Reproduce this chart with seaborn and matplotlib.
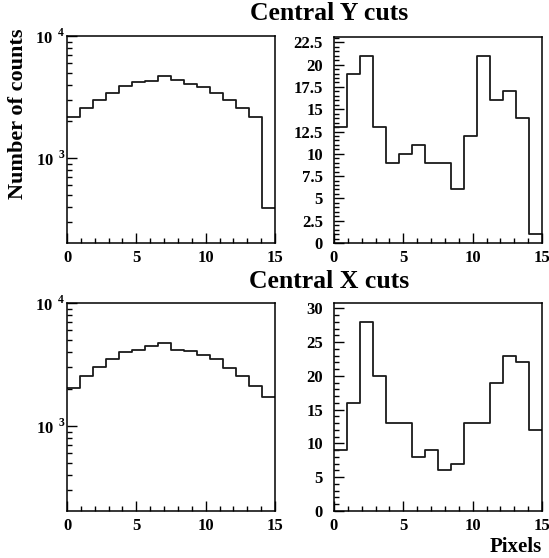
import numpy as np
import pandas as pd
import matplotlib
matplotlib.use("Agg")
import matplotlib.pyplot as plt
import seaborn as sns
from matplotlib.ticker import MultipleLocator, LogLocator, FuncFormatter, NullFormatter

# 16 pixel bins spanning 0..15
n_bins = 16
pixel_range = (0, 15)
pixel_edges = np.linspace(pixel_range[0], pixel_range[1], n_bins + 1)
pixel_centers = 0.5 * (pixel_edges[:-1] + pixel_edges[1:])

# Central Y cuts
y_cut_total = [2190, 2580, 3000, 3420, 3880, 4240, 4320, 4750,
               4380, 4060, 3860, 3400, 3010, 2580, 2190, 393]
y_cut_center = [13, 19, 21, 13, 9, 10, 11, 9, 9, 6, 12, 21, 16, 17, 14, 1]

# Central X cuts
x_cut_total = [2040, 2550, 3010, 3520, 3990, 4170, 4470, 4700,
               4170, 4090, 3770, 3500, 2970, 2550, 2100, 1730]
x_cut_center = [9, 16, 28, 20, 13, 13, 8, 9, 6, 7, 13, 13, 19, 23, 22, 12]

sns.set_style("ticks")
plt.rcParams['font.family'] = ['Liberation Serif', 'DejaVu Serif']
plt.rcParams['font.weight'] = 'bold'
plt.rcParams['text.color'] = 'black'
plt.rcParams['xtick.color'] = 'black'
plt.rcParams['ytick.color'] = 'black'
plt.rcParams['mathtext.fontset'] = 'custom'
plt.rcParams['mathtext.rm'] = 'Liberation Serif:bold'
plt.rcParams['mathtext.bf'] = 'Liberation Serif:bold'


def log_label(v, pos):
    return r'$\mathbf{10}\ ^{\mathbf{%d}}$' % int(round(np.log10(v)))


def draw_hist(ax, counts, log=False):
    df = pd.DataFrame({'pixel': pixel_centers, 'counts': counts})
    sns.histplot(data=df, x='pixel', weights='counts', bins=n_bins, binrange=pixel_range,
                 element='step', fill=False, color='#1a1a1a', linewidth=1.3, ax=ax)
    ax.set_xlim(*pixel_range)
    ax.set_xlabel('')
    ax.set_ylabel('')
    ax.xaxis.set_major_locator(MultipleLocator(5))
    ax.xaxis.set_minor_locator(MultipleLocator(1))
    if log:
        ax.set_yscale('log')
        ax.set_ylim(203, 1e4)
        ax.yaxis.set_major_locator(LogLocator(base=10, numticks=5))
        ax.yaxis.set_minor_locator(LogLocator(base=10, subs=np.arange(2, 10), numticks=20))
        ax.yaxis.set_major_formatter(FuncFormatter(log_label))
        ax.yaxis.set_minor_formatter(NullFormatter())
    else:
        ax.set_ylim(0, max(counts) * 1.1)
    for s in ax.spines.values():
        s.set_visible(True)
        s.set_linewidth(1.1)
        s.set_color('black')
    ax.tick_params(which='both', direction='in', top=False, right=False,
                   labelsize=12, width=1.0, color='black')
    ax.tick_params(axis='x', pad=5)
    ax.tick_params(axis='y', pad=8 if not log else 1)
    ax.tick_params(which='major', length=7)
    ax.tick_params(which='minor', length=3.5)
    for lab in ax.get_xticklabels() + ax.get_yticklabels():
        lab.set_fontweight('bold')


fig = plt.figure(figsize=(5.49, 5.58), dpi=100)
W, H = 549, 558


def add_axes(x0, y0, x1, y1):
    return fig.add_axes([x0 / W, 1 - y1 / H, (x1 - x0) / W, (y1 - y0) / H])


ax_tl = add_axes(67, 36, 275, 243)
ax_tr = add_axes(334, 37, 542, 243)
ax_bl = add_axes(67, 303, 275, 511)
ax_br = add_axes(334, 303, 542, 511)

draw_hist(ax_tl, y_cut_total, log=True)
draw_hist(ax_tr, y_cut_center)
ax_tr.yaxis.set_major_locator(MultipleLocator(2.5))
ax_tr.yaxis.set_minor_locator(MultipleLocator(0.5))
ax_tr.yaxis.set_major_formatter(FuncFormatter(lambda v, p: '%g' % v))
draw_hist(ax_bl, x_cut_total, log=True)
draw_hist(ax_br, x_cut_center)
ax_br.yaxis.set_major_locator(MultipleLocator(5))
ax_br.yaxis.set_minor_locator(MultipleLocator(1))

fig.text(329 / W, 1 - 14 / H, 'Central Y cuts', ha='center', va='center',
         fontsize=18.5, fontweight='bold')
fig.text(329 / W, 1 - 282 / H, 'Central X cuts', ha='center', va='center',
         fontsize=18.5, fontweight='bold')
fig.text(18 / W, 1 - 114 / H, 'Number of counts', ha='center', va='center',
         rotation=90, fontsize=16, fontweight='bold')
fig.text(542 / W, 1 - 552 / H, 'Pixels', ha='right', va='baseline',
         fontsize=15, fontweight='bold')

fig.savefig('out.png', dpi=100)
